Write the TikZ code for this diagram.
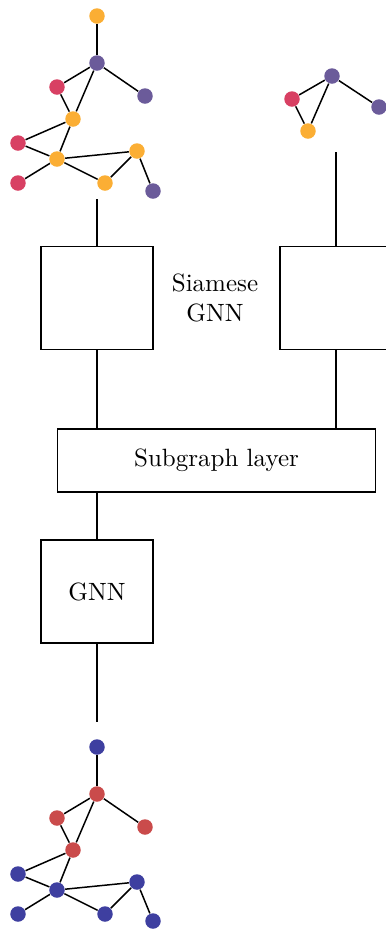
\documentclass[tikz,border=0pt]{standalone}
\usetikzlibrary{positioning}
\definecolor{gorange}{HTML}{FBAE34}
\definecolor{gpurple}{HTML}{6B5B9A}
\definecolor{gpink}{HTML}{D84063}
\definecolor{gblue}{HTML}{3E3FA0}
\definecolor{gred}{HTML}{CA4B4B}

\begin{document}
\begin{tikzpicture}[x=0.4pt, y=-0.4pt,
      v/.style={circle, fill=#1, inner sep=0pt, minimum size=6.2pt},
      blk/.style={draw, semithick, minimum width=44.8pt, minimum height=41.2pt, align=center},
      ln/.style={semithick}]
    \useasboundingbox (0,0) rectangle (386,929);

    % input graph (left)
    \node[v=gorange] (t1) at (97,16) {};
    \node[v=gpurple] (t2) at (97,63) {};
    \node[v=gpink] (t3) at (57,87) {};
    \node[v=gpurple] (t4) at (145,96) {};
    \node[v=gorange] (t5) at (73,119) {};
    \node[v=gpink] (t6) at (18,143) {};
    \node[v=gorange] (t7) at (57,159) {};
    \node[v=gorange] (t8) at (137,151) {};
    \node[v=gpink] (t9) at (18,183) {};
    \node[v=gorange] (t10) at (105,183) {};
    \node[v=gpurple] (t11) at (153,191) {};
    \foreach \a/\b in {1/2, 2/3, 2/4, 2/5, 3/5, 5/6, 5/7, 6/7, 7/9, 7/8, 7/10, 8/10, 8/11}
      \draw[ln] (t\a) -- (t\b);

    % query graph (right)
    \node[v=gpurple] (r1) at (332,76) {};
    \node[v=gpink] (r2) at (292,99) {};
    \node[v=gpurple] (r3) at (379,107) {};
    \node[v=gorange] (r4) at (308,131) {};
    \foreach \a/\b in {1/2, 1/3, 1/4, 2/4}
      \draw[ln] (r\a) -- (r\b);

    % siamese part
    \node[blk] (sl) at (97,298) {};
    \node[blk] (sr) at (336,298) {};
    \node (siam) at (215,298) [align=center] {Siamese\\GNN};
    \node[blk, minimum width=127pt, minimum height=25.2pt] (sub) at (216.5,460.5) {Subgraph layer};
    \node[blk] (gnn) at (97,591.5) {GNN};
    \coordinate (tl) at (97,199);
    \coordinate (tr) at (336,152);
    \coordinate (out) at (97,722);
    \draw[ln] (tl) -- (sl);
    \draw[ln] (tr) -- (sr);
    \draw[ln] (sl) -- (sl |- sub.north);
    \draw[ln] (sr) -- (sr |- sub.north);
    \draw[ln] (gnn |- sub.south) -- (gnn);
    \draw[ln] (gnn) -- (out);

    % output graph
    \node[v=gblue] (b1) at (97,747) {};
    \node[v=gred] (b2) at (97,794) {};
    \node[v=gred] (b3) at (57,818) {};
    \node[v=gred] (b4) at (145,827) {};
    \node[v=gred] (b5) at (73,850) {};
    \node[v=gblue] (b6) at (18,874) {};
    \node[v=gblue] (b7) at (57,890) {};
    \node[v=gblue] (b8) at (137,882) {};
    \node[v=gblue] (b9) at (18,914) {};
    \node[v=gblue] (b10) at (105,914) {};
    \node[v=gblue] (b11) at (153,921) {};
    \foreach \a/\b in {1/2, 2/3, 2/4, 2/5, 3/5, 5/6, 5/7, 6/7, 7/9, 7/8, 7/10, 8/10, 8/11}
      \draw[ln] (b\a) -- (b\b);
\end{tikzpicture}
\end{document}
